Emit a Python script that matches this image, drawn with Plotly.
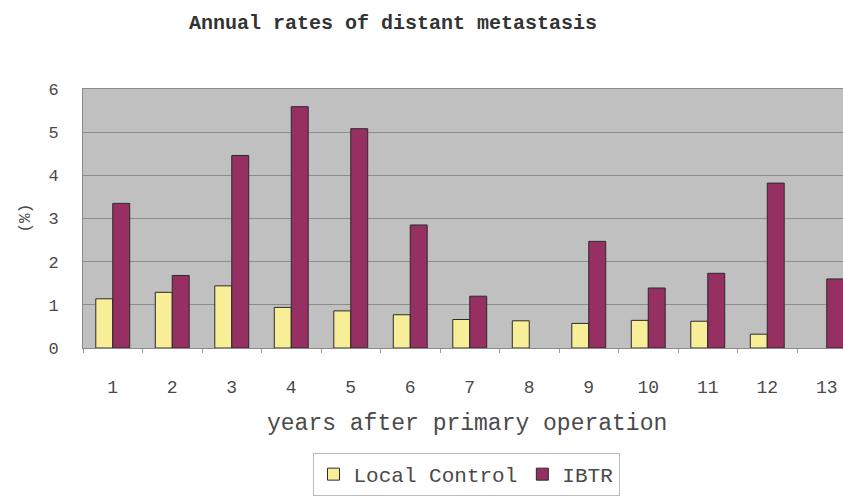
import plotly.graph_objects as go

# Annual rates (%) by year after primary operation
years = [str(y) for y in range(1, 14)]
local_control = [1.14, 1.29, 1.44, 0.94, 0.86, 0.77, 0.66, 0.63, 0.57, 0.64, 0.62, 0.32, 0]
ibtr = [3.35, 1.68, 4.46, 5.59, 5.08, 2.85, 1.20, 0, 2.47, 1.39, 1.73, 3.82, 1.60]

W, H = 843, 496
L, R, T, B = 83, 0, 89, 141
MONO = "Courier New, Liberation Mono, monospace"
TXT = "#4a4a4a"


def outline(values):
    # no outline on empty bars so nothing is drawn for a zero rate
    return [0 if v == 0 else 1 for v in values]


fig = go.Figure()
fig.add_trace(go.Bar(
    x=years, y=local_control, name="Local Control",
    marker=dict(color="#F8EE98",
                line=dict(color="#2a2a2a", width=outline(local_control))),
))
fig.add_trace(go.Bar(
    x=years, y=ibtr, name="IBTR",
    marker=dict(color="#962F62",
                line=dict(color="#2a2a2a", width=outline(ibtr))),
))

plot_w = W - L - R
plot_h = H - T - B

fig.update_layout(
    width=W, height=H,
    margin=dict(l=L, r=R, t=T, b=B),
    paper_bgcolor="white",
    plot_bgcolor="#C0C0C0",
    barmode="group",
    bargap=0.43,
    bargroupgap=0,
    font=dict(family=MONO, color=TXT),
    title=dict(
        text="<b>Annual rates of distant metastasis</b>",
        x=393 / W, xanchor="center",
        y=1 - 22 / H, yanchor="middle",
        font=dict(family=MONO, size=20, color="#333333"),
    ),
    xaxis=dict(
        type="category",
        range=[-0.5, -0.5 + plot_w / 59.5],
        tickson="boundaries",
        ticks="outside", ticklen=4, tickcolor="#999999",
        showgrid=False,
        showline=True, linecolor="#8a8a8a", linewidth=1, mirror=True,
        tickfont=dict(family=MONO, size=18, color=TXT),
        ticklabelstandoff=22,
    ),
    yaxis=dict(
        range=[0, 6], dtick=1,
        showgrid=True, gridcolor="#8C8C8C", gridwidth=1,
        zeroline=False,
        showline=True, linecolor="#8a8a8a", linewidth=1, mirror=True,
        ticks="", tickfont=dict(family=MONO, size=17, color=TXT),
        ticklabelstandoff=20,
    ),
    legend=dict(
        orientation="h",
        x=(466 - L) / plot_w, xanchor="center",
        y=(355 - 463) / plot_h, yanchor="top",
        bgcolor="white", bordercolor="#bbbbbb", borderwidth=1,
        font=dict(family=MONO, size=21, color=TXT),
        itemwidth=30,
        traceorder="normal",
    ),
    showlegend=True,
    annotations=[
        dict(
            text="years after primary operation",
            xref="paper", yref="paper",
            x=(467 - L) / plot_w, y=(355 - 433) / plot_h,
            xanchor="center", yanchor="middle",
            showarrow=False,
            font=dict(family=MONO, size=23, color=TXT),
        ),
        dict(
            text="(%)",
            xref="paper", yref="paper",
            x=(25 - L) / plot_w, y=(355 - 222) / plot_h,
            xanchor="center", yanchor="middle",
            textangle=-90, showarrow=False,
            font=dict(family=MONO, size=16, color=TXT),
        ),
    ],
)

fig.write_html("out.html")
